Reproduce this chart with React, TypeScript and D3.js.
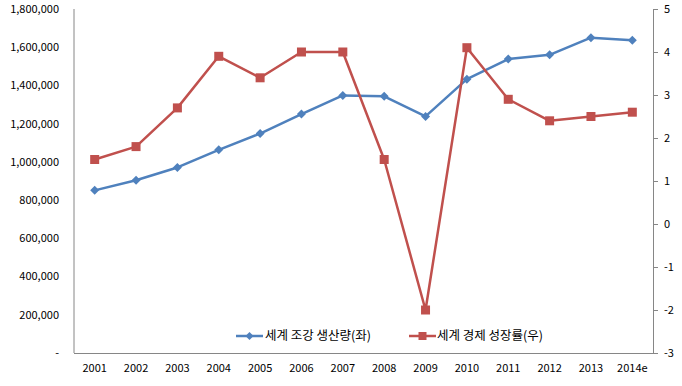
import * as d3 from 'd3'

const years = ['2001', '2002', '2003', '2004', '2005', '2006', '2007', '2008', '2009', '2010', '2011', '2012', '2013', '2014e']
const steelOutput = [851000, 904000, 971000, 1063000, 1148000, 1250000, 1348000, 1343000, 1238000, 1433000, 1538000, 1560000, 1650000, 1637000]
const worldGrowth = [1.5, 1.8, 2.7, 3.9, 3.4, 4.0, 4.0, 1.5, -2.0, 4.1, 2.9, 2.4, 2.5, 2.6]
const leftTicks = [0, 200000, 400000, 600000, 800000, 1000000, 1200000, 1400000, 1600000, 1800000]
const rightTicks = [-3, -2, -1, 0, 1, 2, 3, 4, 5]
const legendLabels = ['세계 조강 생산량(좌)', '세계 경제 성장률(우)']

const W = 682
const H = 386
const BLUE = '#4F81BD'
const RED = '#C0504D'
const AXIS = '#868686'
const FONT = '"Noto Sans CJK KR", "Noto Sans", sans-serif'

export default function App() {
  const left = 74
  const right = 653
  const top = 9
  const bottom = 353

  const x = d3.scaleBand<string>().domain(years).range([left, right])
  const cx = (i: number) => (x(years[i]) ?? 0) + x.bandwidth() / 2
  const yL = d3.scaleLinear().domain([0, 1800000]).range([bottom, top])
  const yR = d3.scaleLinear().domain([-3, 5]).range([bottom, top])

  const fmt = d3.format(',')
  const blueLine = d3.line<number>().x((_, i) => cx(i)).y((d) => yL(d))(steelOutput) ?? ''
  const redLine = d3.line<number>().x((_, i) => cx(i)).y((d) => yR(d))(worldGrowth) ?? ''

  const diamond = (px: number, py: number, r: number) =>
    `M${px},${py - r}L${px + r},${py}L${px},${py + r}L${px - r},${py}Z`

  return (
    <svg width={W} height={H} style={{ position: 'absolute', left: 0, top: 0, background: '#fff' }} fontFamily={FONT}>
      <rect width={W} height={H} fill="#fff" />
      {/* axes */}
      <line x1={left} x2={left} y1={top} y2={bottom} stroke={AXIS} />
      <line x1={left} x2={right} y1={bottom + 0.5} y2={bottom + 0.5} stroke={AXIS} />
      <line x1={right + 0.5} x2={right + 0.5} y1={top} y2={bottom} stroke={AXIS} />
      {leftTicks.map((t) => (
        <text key={t} x={59} y={yL(t)} dy="0.35em" textAnchor="end" fontSize={11} fill="#000">
          {t === 0 ? '-' : fmt(t)}
        </text>
      ))}
      {rightTicks.map((t) => (
        <g key={t}>
          <line x1={right} x2={right + 5} y1={Math.round(yR(t)) + 0.5} y2={Math.round(yR(t)) + 0.5} stroke={AXIS} />
          <text x={664} y={yR(t)} dy="0.35em" fontSize={11} fill="#000">{t}</text>
        </g>
      ))}
      {years.map((yr, i) => (
        <text key={yr} x={cx(i)} y={372} textAnchor="middle" fontSize={11} fill="#000">{yr}</text>
      ))}
      {/* series */}
      <path d={blueLine} fill="none" stroke={BLUE} strokeWidth={2.5} strokeLinejoin="round" />
      {steelOutput.map((d, i) => (
        <path key={i} d={diamond(cx(i), yL(d), 4.5)} fill={BLUE} />
      ))}
      <path d={redLine} fill="none" stroke={RED} strokeWidth={2.5} strokeLinejoin="round" />
      {worldGrowth.map((d, i) => (
        <rect key={i} x={cx(i) - 4.5} y={yR(d) - 4.5} width={9} height={9} fill={RED} />
      ))}
      {/* legend */}
      <g>
        <line x1={236} x2={263} y1={336} y2={336} stroke={BLUE} strokeWidth={2.5} />
        <path d={diamond(249.5, 336, 4)} fill={BLUE} />
        <text x={265} y={336} dy="0.35em" fontSize={12.5} fill="#000">{legendLabels[0]}</text>
        <line x1={409} x2={436} y1={336} y2={336} stroke={RED} strokeWidth={2.5} />
        <rect x={418.5} y={332} width={8} height={8} fill={RED} />
        <text x={437} y={336} dy="0.35em" fontSize={12.5} fill="#000">{legendLabels[1]}</text>
      </g>
    </svg>
  )
}
